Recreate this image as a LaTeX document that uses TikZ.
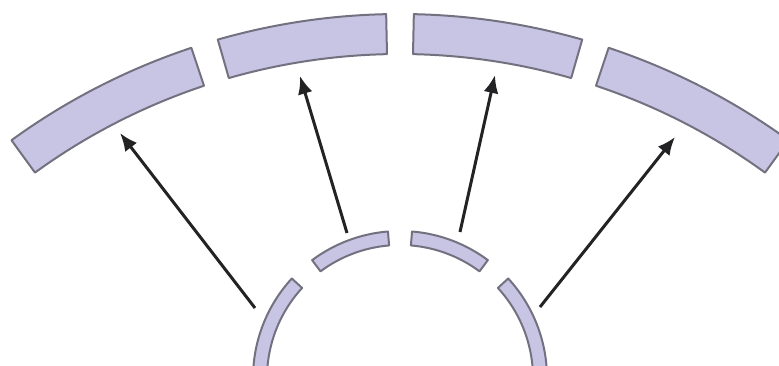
\documentclass[tikz,border=0pt]{standalone}
\usetikzlibrary{arrows.meta}
\definecolor{segfill}{RGB}{199,197,227}
\definecolor{segline}{RGB}{115,113,128}
\definecolor{arrowc}{RGB}{35,35,37}
\begin{document}
\begin{tikzpicture}[x=1pt,y=1pt,
  seg/.style={fill=segfill,draw=segline,line width=2pt,line join=round},
  arr/.style={draw=arrowc,line width=3pt,-{Latex[length=18pt,width=15pt]}}]
\useasboundingbox (0,0) rectangle (779,366);
\clip (0,0) rectangle (779,366);
% centres of the two rings
\coordinate (O) at (400,-309);
\coordinate (I) at (400,-12);
% outer segments
\foreach \a/\b in {108.4/126,91.2/106,74/88.8,54/71.6}
  \draw[seg] ([shift={(\a:661pt)}]O) arc[start angle=\a,end angle=\b,radius=661pt]
     -- ([shift={(\b:621pt)}]O) arc[start angle=\b,end angle=\a,radius=621pt] -- cycle;
% inner segments
\foreach \a/\b in {94.7/126.7,137.4/182,53.3/85.3,-2/42.6}
  \draw[seg] ([shift={(\a:147pt)}]I) arc[start angle=\a,end angle=\b,radius=147pt]
     -- ([shift={(\b:133pt)}]I) arc[start angle=\b,end angle=\a,radius=133pt] -- cycle;
% arrow end points
\coordinate (s1) at (255,58);  \coordinate (t1) at (120,233);
\coordinate (s2) at (347,133); \coordinate (t2) at (300,290);
\coordinate (s3) at (460,134); \coordinate (t3) at (495,291);
\coordinate (s4) at (540,59);  \coordinate (t4) at (675,229);
\draw[arr] (s1) -- (t1);
\draw[arr] (s2) -- (t2);
\draw[arr] (s3) -- (t3);
\draw[arr] (s4) -- (t4);
\end{tikzpicture}
\end{document}
